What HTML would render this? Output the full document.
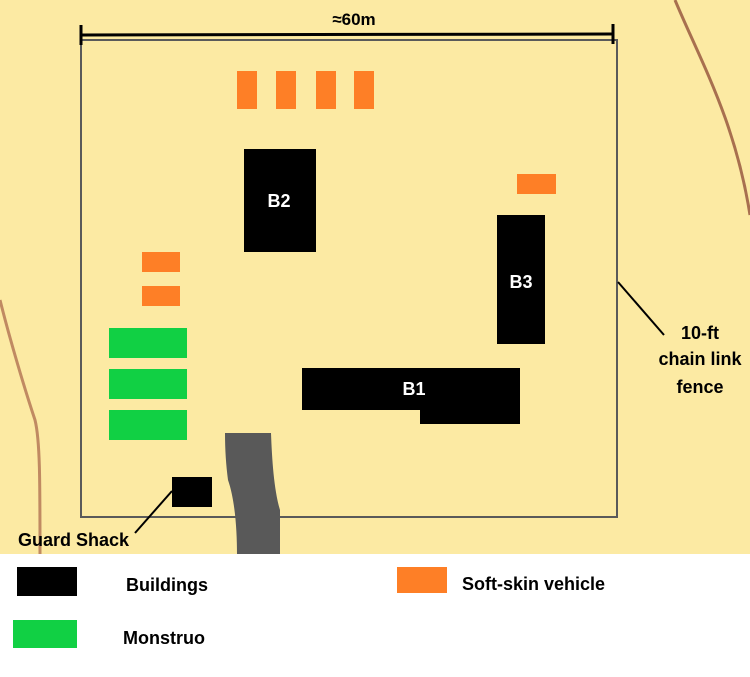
<!DOCTYPE html>
<html><head><meta charset="utf-8"><style>
html,body{margin:0;padding:0;width:750px;height:677px;overflow:hidden;background:#fff}
svg{display:block}
text{font-family:"Liberation Sans",sans-serif;font-weight:bold;fill:#000}
</style></head><body>
<svg width="750" height="677" viewBox="0 0 750 677" xmlns="http://www.w3.org/2000/svg">
<rect x="0" y="0" width="750" height="554" style="fill:#fceaa3"/>
<path d="M675,0 C700,60 735,120 750,215" fill="none" stroke="#a8704f" stroke-width="3"/>
<path d="M0,300 C10,340 25,390 35,420 C40,440 40,480 40,554" fill="none" stroke="#c08a62" stroke-width="3"/>
<rect x="81" y="40" width="536" height="477" fill="none" stroke="#5a5a5a" stroke-width="2"/>
<path d="M225,433 L271,433 C272,460 274,490 280,510 L280,554 L237,554 C237,530 235,500 228,480 C226,465 225,450 225,433 Z" fill="#595959"/>
<line x1="81" y1="35" x2="613" y2="34" stroke="#000" stroke-width="3"/>
<line x1="81" y1="25" x2="81" y2="45" stroke="#000" stroke-width="3"/>
<line x1="613" y1="24" x2="613" y2="44" stroke="#000" stroke-width="3"/>
<text x="354" y="25" font-size="17" text-anchor="middle">≈60m</text>
<g fill="#fe7f26">
<rect x="237" y="71" width="20" height="38"/><rect x="276" y="71" width="20" height="38"/>
<rect x="316" y="71" width="20" height="38"/><rect x="354" y="71" width="20" height="38"/>
<rect x="517" y="174" width="39" height="20"/>
<rect x="142" y="252" width="38" height="20"/><rect x="142" y="286" width="38" height="20"/>
</g>
<g fill="#11d044">
<rect x="109" y="328" width="78" height="30"/><rect x="109" y="369" width="78" height="30"/><rect x="109" y="410" width="78" height="30"/>
</g>
<g fill="#000">
<rect x="244" y="149" width="72" height="103"/>
<rect x="497" y="215" width="48" height="129"/>
<rect x="302" y="368" width="218" height="42"/><rect x="420" y="405" width="100" height="19"/>
<rect x="172" y="477" width="40" height="30"/>
</g>
<text x="279" y="207" font-size="18" text-anchor="middle" style="fill:#fff">B2</text>
<text x="521" y="288" font-size="18" text-anchor="middle" style="fill:#fff">B3</text>
<text x="414" y="395" font-size="18" text-anchor="middle" style="fill:#fff">B1</text>
<line x1="618" y1="282" x2="664" y2="335" stroke="#000" stroke-width="2"/>
<text x="700" y="339" font-size="18" text-anchor="middle">10-ft</text>
<text x="700" y="365" font-size="18" text-anchor="middle">chain link</text>
<text x="700" y="393" font-size="18" text-anchor="middle">fence</text>
<line x1="172" y1="491" x2="135" y2="533" stroke="#000" stroke-width="2"/>
<text x="18" y="546" font-size="18">Guard Shack</text>
<rect x="17" y="567" width="60" height="29" fill="#000"/>
<text x="126" y="591" font-size="18">Buildings</text>
<rect x="13" y="620" width="64" height="28" fill="#11d044"/>
<text x="123" y="644" font-size="18">Monstruo</text>
<rect x="397" y="567" width="50" height="26" fill="#fe7f26"/>
<text x="462" y="590" font-size="18">Soft-skin vehicle</text>
</svg>
</body></html>
